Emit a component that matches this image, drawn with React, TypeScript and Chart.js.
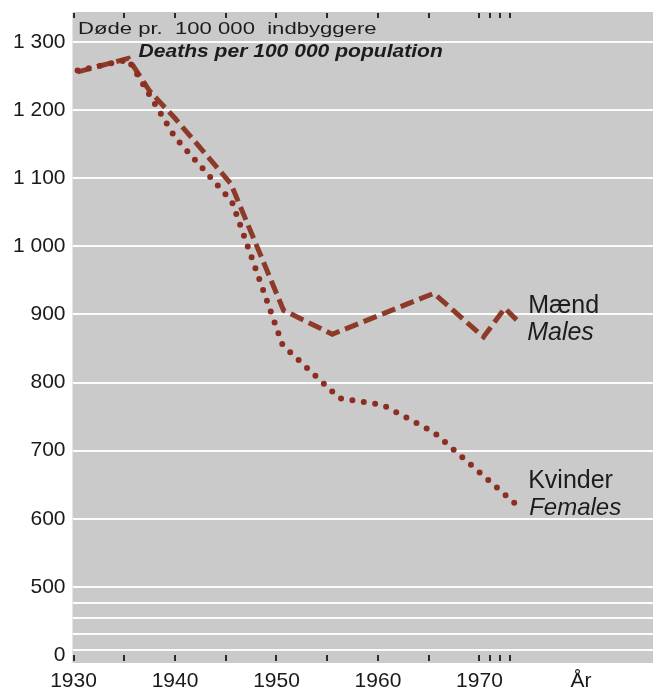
import React, { useEffect, useRef } from "react";
import { Chart, registerables } from "chart.js";

Chart.register(...registerables);

// Data (y values in deaths per 100 000; the axis below 500 is compressed: 0 is drawn at 400)
const maleYears = [1930.4, 1935.4, 1937.5, 1940, 1945.5, 1950.7, 1955.5, 1965.5, 1970.4, 1972.5, 1974];
const maleValues = [1256, 1276, 1228, 1188, 1092, 906, 871, 931, 867, 909, 887];
const femaleYears = [1930.4, 1935.4, 1940, 1945.6, 1950.6, 1956.2, 1960.5, 1965.5, 1973.7];
const femaleValues = [1258, 1274, 1160, 1066, 855, 777, 767, 727, 620];

const xTickValues = [1930, 1940, 1950, 1960, 1970, 1980];
const xTickMarkYears = [1930, 1935, 1940, 1945, 1950, 1955, 1960, 1965, 1970, 1971, 1972, 1973];
const yTickValues = [500, 600, 700, 800, 900, 1000, 1100, 1200, 1300];
const yZeroPosition = 400; // where "0" sits on the broken axis
const breakLines = [408, 431, 454, 477];

const titleDa = "Døde pr.  100 000  indbyggere";
const titleEn = "Deaths per 100 000 population";
const maleLabels = ["Mænd", "Males"];
const femaleLabels = ["Kvinder", "Females"];

const FONT = "'Liberation Sans', Arial, Helvetica, sans-serif";

function fmt(v: number): string {
  if (v === yZeroPosition) return "0";
  if (v < 500) return "";
  if (v >= 1000) return `${Math.floor(v / 1000)} ${String(v % 1000).padStart(3, "0")}`;
  return String(v);
}

function wideText(ctx: any, text: string, x: number, y: number, sx: number) {
  ctx.save();
  ctx.translate(x, y);
  ctx.scale(sx, 1);
  ctx.fillText(text, 0, 0);
  ctx.restore();
}

const decorPlugin = {
  id: "decor",
  beforeDraw(chart: any) {
    const { ctx, chartArea } = chart;
    ctx.save();
    ctx.fillStyle = "#cacaca";
    ctx.fillRect(chartArea.left, chartArea.top, chartArea.right - chartArea.left, chartArea.bottom - chartArea.top);
    ctx.restore();
  },
  afterDatasetsDraw(chart: any) {
    const { ctx, chartArea } = chart;
    const xs = chart.scales.x;
    const ys = chart.scales.y;
    ctx.save();
    // tick marks top & bottom
    ctx.strokeStyle = "#2a2a2a";
    ctx.lineWidth = 2;
    for (const yr of xTickMarkYears) {
      const px = Math.round(xs.getPixelForValue(yr));
      ctx.beginPath();
      ctx.moveTo(px, chartArea.top + 1);
      ctx.lineTo(px, chartArea.top + 6);
      ctx.moveTo(px, chartArea.bottom - 8);
      ctx.lineTo(px, chartArea.bottom - 2);
      ctx.stroke();
    }
    ctx.fillStyle = "#1c1c1c";
    ctx.textBaseline = "alphabetic";
    ctx.textAlign = "left";
    // titles
    ctx.font = `17px ${FONT}`;
    wideText(ctx, titleDa, chartArea.left + 5.5, chartArea.top + 22, 1.3);
    ctx.font = `italic bold 18px ${FONT}`;
    wideText(ctx, titleEn, chartArea.left + 66, chartArea.top + 45, 1.17);
    // series labels
    const lx = xs.getPixelForValue(1974.8);
    const my = ys.getPixelForValue(902);
    const fy = ys.getPixelForValue(645);
    ctx.font = `25px ${FONT}`;
    ctx.fillText(maleLabels[0], lx, my);
    ctx.font = `italic 25px ${FONT}`;
    ctx.fillText(maleLabels[1], lx - 1, my + 27);
    ctx.font = `25px ${FONT}`;
    ctx.fillText(femaleLabels[0], lx, fy);
    ctx.font = `italic 24px ${FONT}`;
    ctx.fillText(femaleLabels[1], lx + 1, fy + 27);
    ctx.restore();
  },
};

export default function App() {
  const ref = useRef<HTMLCanvasElement | null>(null);
  useEffect(() => {
    if (!ref.current) return;
    const chart = new Chart(ref.current, {
      type: "line",
      data: {
        datasets: [
          {
            label: "Kvinder",
            data: femaleYears.map((x, i) => ({ x, y: femaleValues[i] })),
            borderColor: "#8c2f22",
            borderWidth: 6,
            borderDash: [0, 11.5],
            borderCapStyle: "round",
            pointRadius: 0,
            tension: 0,
            fill: false,
          },
          {
            label: "Mænd",
            data: maleYears.map((x, i) => ({ x, y: maleValues[i] })),
            borderColor: "#8d3b28",
            borderWidth: 5,
            borderDash: [14, 6],
            borderCapStyle: "butt",
            borderJoinStyle: "miter",
            pointRadius: 0,
            tension: 0,
            fill: false,
          },
        ],
      },
      options: {
        responsive: false,
        animation: false,
        layout: { padding: { top: 12, left: 0, right: 0, bottom: 0 } },
        plugins: { legend: { display: false }, tooltip: { enabled: false }, title: { display: false } },
        scales: {
          x: {
            type: "linear",
            min: 1929.9,
            max: 1987.1,
            afterBuildTicks: (s: any) => {
              s.ticks = xTickValues.map((v) => ({ value: v }));
            },
            afterFit: (s: any) => {
              s.height = 26;
              s.paddingLeft = 0;
              s.paddingRight = 0;
            },
            grid: { display: false, drawTicks: false },
            border: { display: false },
            ticks: {
              autoSkip: false,
              maxRotation: 0,
              padding: 6,
              color: "#1a1a1a",
              font: { family: FONT, size: 21 },
              callback: (v: any) => (v === 1980 ? "År" : String(v)),
            },
          },
          y: {
            type: "linear",
            min: 388.3,
            max: 1344,
            afterBuildTicks: (s: any) => {
              s.ticks = [yZeroPosition, ...breakLines, ...yTickValues].map((v) => ({ value: v }));
            },
            afterFit: (s: any) => {
              s.width = 72.5;
              s.paddingTop = 0;
              s.paddingBottom = 0;
            },
            grid: {
              drawTicks: false,
              lineWidth: 2,
              color: (c: any) => (c.tick && c.tick.value === yZeroPosition ? "rgba(0,0,0,0)" : "rgba(255,255,255,0.95)"),
            },
            border: { display: false },
            ticks: {
              autoSkip: false,
              padding: 7,
              color: "#1a1a1a",
              font: { family: FONT, size: 21 },
              callback: (v: any) => fmt(Number(v)),
            },
          },
        },
      },
      plugins: [decorPlugin],
    } as any);
    return () => chart.destroy();
  }, []);
  return (
    <div style={{ position: "fixed", left: 0, top: 0, width: 653, height: 689, background: "#fff" }}>
      <canvas ref={ref} width={653} height={689} style={{ display: "block" }} />
    </div>
  );
}
